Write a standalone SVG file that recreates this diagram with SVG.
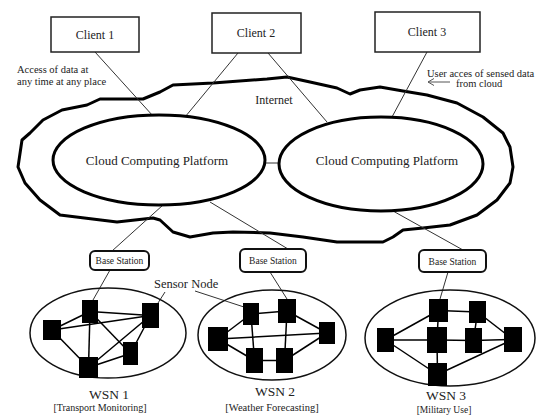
<svg xmlns="http://www.w3.org/2000/svg" width="540" height="416" viewBox="0 0 540 416" font-family="'Liberation Serif', 'DejaVu Serif', 'Times New Roman', serif">
<style>
text{font-family:'Liberation Serif','DejaVu Serif','Times New Roman',serif;fill:#222}
.box{fill:#fff;stroke:#222;stroke-width:1.5}
.bs{fill:#fff;stroke:#111;stroke-width:2}
.plat{fill:#fff;stroke:#000;stroke-width:3}
.wsn{fill:none;stroke:#111;stroke-width:1.5}
.con{stroke:#333;stroke-width:1;fill:none}
.edge{stroke:#000;stroke-width:1.5}
.sn{fill:#000}
.c{text-anchor:middle}
</style>
<rect width="540" height="416" fill="#fff"/>

<g id="internet">
<path d="M22,140 L30,133 L43,120 L62,110 L87,105 L100,99 L143,99 L160,92 L173,85 L213,83 L267,79 L287,77 L310,82 L337,88 L350,94 L360,90 L380,87 L403,91 L427,95 L457,103 L483,117 L503,133 L510,147 L513,167 L510,183 L497,200 L477,215 L450,225 L423,228 L403,230 L393,237 L383,242 L337,242 L303,237 L270,233 L233,232 L213,233 L190,237 L173,232 L160,220 L153,218 L117,222 L60,215 L40,200 L25,183 L18,167 Z" fill="#fff" stroke="#000" stroke-width="3" stroke-linejoin="round"/>
<text x="274" y="104" class="c" font-size="12">Internet</text>
</g>

<g id="connectors">
<line class="con" x1="95" y1="52" x2="153" y2="116"/>
<line class="con" x1="238" y1="53" x2="185" y2="117"/>
<line class="con" x1="268" y1="53" x2="327" y2="122"/>
<line class="con" x1="427" y1="52" x2="392" y2="117"/>
<line class="con" x1="264" y1="163" x2="280" y2="163"/>
<line class="con" x1="163" y1="205" x2="112" y2="251"/>
<line class="con" x1="210" y1="202" x2="288" y2="249"/>
<line class="con" x1="393" y1="211" x2="463" y2="250"/>
<line class="con" x1="110" y1="270" x2="93" y2="300"/>
<line class="con" x1="270" y1="272" x2="287" y2="299"/>
<line class="con" x1="448" y1="272" x2="440" y2="299"/>
<line class="con" x1="165" y1="292" x2="158" y2="303"/>
<line class="con" x1="195" y1="291" x2="244" y2="307"/>
<path d="M428,82 L450,82 M434,78.5 L428,82 L434,85.5" fill="none" stroke="#555" stroke-width="1"/>
</g>

<g id="client1">
<rect class="box" x="51" y="17" width="88" height="35"/>
<text x="95" y="39" class="c" font-size="12">Client 1</text>
</g>
<g id="client2">
<rect class="box" x="212" y="13" width="89" height="40"/>
<text x="256" y="37" class="c" font-size="12">Client 2</text>
</g>
<g id="client3">
<rect class="box" x="375" y="12" width="105" height="40"/>
<text x="427" y="36" class="c" font-size="12">Client 3</text>
</g>

<g id="note-left">
<text x="17" y="73" font-size="10.5">Access of data at</text>
<text x="17" y="85" font-size="10.5">any time at any place</text>
</g>
<g id="note-right">
<text x="427" y="77" font-size="10.5">User acces of sensed data</text>
<text x="456" y="87" font-size="10.5">from cloud</text>
</g>

<g id="platform1">
<ellipse class="plat" cx="159" cy="160" rx="106" ry="45"/>
<text x="157" y="165" class="c" font-size="13">Cloud Computing Platform</text>
</g>
<g id="platform2">
<ellipse class="plat" cx="381" cy="164" rx="102" ry="47"/>
<text x="387" y="165" class="c" font-size="13">Cloud Computing Platform</text>
</g>

<g id="bs1">
<rect class="bs" x="90" y="251" width="59" height="19" rx="5"/>
<text x="119.5" y="264" class="c" font-size="9.5">Base Station</text>
</g>
<g id="bs2">
<rect class="bs" x="240" y="249" width="66" height="23" rx="5"/>
<text x="273" y="264" class="c" font-size="9.5">Base Station</text>
</g>
<g id="bs3">
<rect class="bs" x="419" y="250" width="67" height="22" rx="5"/>
<text x="452.5" y="265" class="c" font-size="9.5">Base Station</text>
</g>

<g id="sensor-label">
<text x="154" y="288" font-size="12.5">Sensor Node</text>
</g>

<g id="wsn1">
<ellipse class="wsn" cx="108" cy="333" rx="78" ry="45"/>
<g class="edge">
<line x1="90" y1="311.5" x2="150.5" y2="315.5"/>
<line x1="90" y1="311.5" x2="52" y2="330"/>
<line x1="52" y1="330" x2="150.5" y2="315.5"/>
<line x1="90" y1="311.5" x2="130.5" y2="353.5"/>
<line x1="90" y1="311.5" x2="88.5" y2="367.5"/>
<line x1="52" y1="330" x2="88.5" y2="367.5"/>
<line x1="88.5" y1="367.5" x2="150.5" y2="315.5"/>
<line x1="88.5" y1="367.5" x2="130.5" y2="353.5"/>
<line x1="130.5" y1="353.5" x2="150.5" y2="315.5"/>
</g>
<rect class="sn" x="82" y="300" width="16" height="23"/>
<rect class="sn" x="142" y="303" width="17" height="25"/>
<rect class="sn" x="43" y="320" width="18" height="20"/>
<rect class="sn" x="123" y="342" width="15" height="23"/>
<rect class="sn" x="79" y="357" width="19" height="21"/>
<text x="109" y="399" class="c" font-size="13.5">WSN 1</text>
<text x="100" y="411" class="c" font-size="10">[Transport Monitoring]</text>
</g>

<g id="wsn2">
<ellipse class="wsn" cx="272" cy="335" rx="74" ry="45"/>
<g class="edge">
<line x1="251" y1="314" x2="287" y2="311"/>
<line x1="218" y1="339" x2="251" y2="314"/>
<line x1="218" y1="339" x2="327" y2="333"/>
<line x1="251" y1="314" x2="254.5" y2="360.5"/>
<line x1="287" y1="311" x2="284.5" y2="360.5"/>
<line x1="287" y1="311" x2="327" y2="333"/>
<line x1="254.5" y1="360.5" x2="284.5" y2="360.5"/>
<line x1="218" y1="339" x2="254.5" y2="360.5"/>
<line x1="284.5" y1="360.5" x2="327" y2="333"/>
</g>
<rect class="sn" x="243" y="303" width="16" height="22"/>
<rect class="sn" x="278" y="299" width="18" height="24"/>
<rect class="sn" x="208" y="327" width="20" height="24"/>
<rect class="sn" x="319" y="322" width="16" height="22"/>
<rect class="sn" x="246" y="348" width="17" height="25"/>
<rect class="sn" x="276" y="348" width="17" height="25"/>
<text x="275" y="396" class="c" font-size="13.5">WSN 2</text>
<text x="272" y="411" class="c" font-size="10.5">[Weather Forecasting]</text>
</g>

<g id="wsn3">
<ellipse class="wsn" cx="450" cy="338" rx="85" ry="48"/>
<g class="edge">
<line x1="438.5" y1="310.5" x2="477.5" y2="312"/>
<line x1="385.5" y1="340" x2="438.5" y2="310.5"/>
<line x1="385.5" y1="340" x2="437" y2="340"/>
<line x1="437" y1="340" x2="473.5" y2="340.5"/>
<line x1="473.5" y1="340.5" x2="513" y2="339.5"/>
<line x1="477.5" y1="312" x2="473.5" y2="340.5"/>
<line x1="438.5" y1="310.5" x2="437" y2="340"/>
<line x1="477.5" y1="312" x2="513" y2="339.5"/>
<line x1="437" y1="340" x2="437.5" y2="374.5"/>
<line x1="385.5" y1="340" x2="437.5" y2="374.5"/>
<line x1="437.5" y1="374.5" x2="513" y2="339.5"/>
</g>
<rect class="sn" x="429" y="299" width="19" height="23"/>
<rect class="sn" x="469" y="301" width="17" height="22"/>
<rect class="sn" x="377" y="328" width="17" height="24"/>
<rect class="sn" x="427" y="327" width="20" height="26"/>
<rect class="sn" x="465" y="328" width="17" height="25"/>
<rect class="sn" x="504" y="327" width="18" height="25"/>
<rect class="sn" x="428" y="363" width="19" height="23"/>
<text x="446" y="400" class="c" font-size="13.5">WSN 3</text>
<text x="444" y="413" class="c" font-size="9.5">[Military Use]</text>
</g>
</svg>
